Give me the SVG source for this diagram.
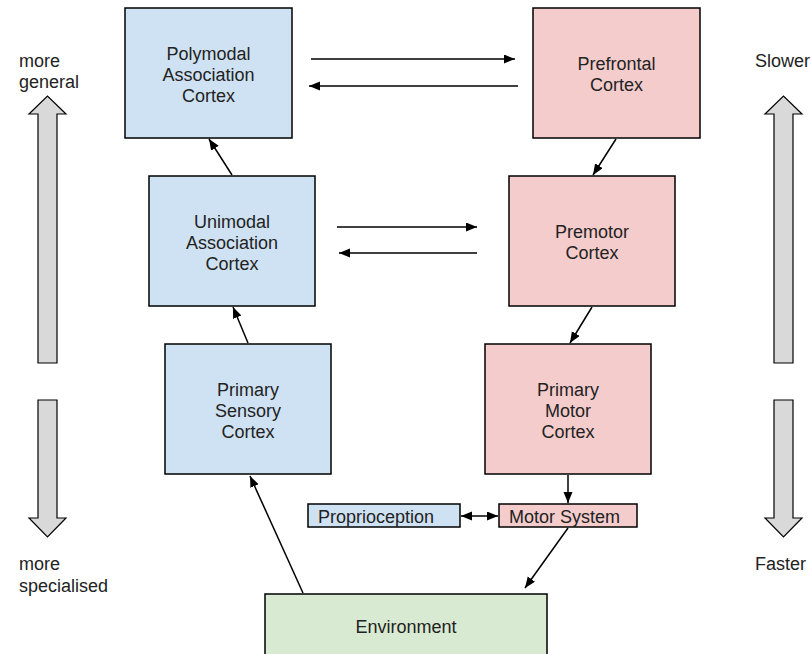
<svg xmlns="http://www.w3.org/2000/svg" width="812" height="654" viewBox="0 0 812 654">
<style>
text{font-family:"Liberation Sans",Arial,sans-serif;font-size:18px;fill:#222}
.c{text-anchor:middle}
.box{stroke:#000;stroke-width:1.5}
.blue{fill:#cfe2f3}
.pink{fill:#f4cccc}
.green{fill:#d9ead3}
.big{fill:#d9d9d9;stroke:#000;stroke-width:1.2}
.con{stroke:#000;stroke-width:1.5;fill:none;marker-end:url(#ah)}
</style>
<defs>
<marker id="ah" markerUnits="userSpaceOnUse" markerWidth="12" markerHeight="10" refX="11" refY="4.5" orient="auto-start-reverse"><path d="M0,0 L11,4.5 L0,9 z" fill="#000"/></marker>
</defs>
<rect width="812" height="654" fill="#fff"/>
<g id="scale-left">
<text x="19" y="67">more</text>
<text x="19" y="88">general</text>
<path class="big" d="M38,363 L38,114 L29,114 L47.5,96 L66,114 L57,114 L57,363 Z"/>
<path class="big" d="M38,400 L38,518 L29,518 L47.5,537 L66,518 L57,518 L57,400 Z"/>
<text x="19" y="570">more</text>
<text x="19" y="592">specialised</text>
</g>
<g id="scale-right">
<text x="755" y="67">Slower</text>
<path class="big" d="M774,363 L774,114 L765,114 L783.5,96 L802,114 L793,114 L793,363 Z"/>
<path class="big" d="M774,400 L774,518 L765,518 L783.5,537 L802,518 L793,518 L793,400 Z"/>
<text x="755" y="570">Faster</text>
</g>
<g id="polymodal">
<rect class="box blue" x="125" y="8" width="167" height="130"/>
<text class="c" x="208.5" y="60">Polymodal</text>
<text class="c" x="208.5" y="81">Association</text>
<text class="c" x="208.5" y="102">Cortex</text>
</g>
<g id="prefrontal">
<rect class="box pink" x="533" y="8" width="167" height="130"/>
<text class="c" x="616.5" y="70">Prefrontal</text>
<text class="c" x="616.5" y="91">Cortex</text>
</g>
<g id="unimodal">
<rect class="box blue" x="149" y="176" width="166" height="130"/>
<text class="c" x="232" y="228">Unimodal</text>
<text class="c" x="232" y="249">Association</text>
<text class="c" x="232" y="270">Cortex</text>
</g>
<g id="premotor">
<rect class="box pink" x="509" y="176" width="166" height="130"/>
<text class="c" x="592" y="238">Premotor</text>
<text class="c" x="592" y="259">Cortex</text>
</g>
<g id="primary-sensory">
<rect class="box blue" x="165" y="344" width="166" height="130"/>
<text class="c" x="248" y="396">Primary</text>
<text class="c" x="248" y="417">Sensory</text>
<text class="c" x="248" y="438">Cortex</text>
</g>
<g id="primary-motor">
<rect class="box pink" x="485" y="344" width="166" height="130"/>
<text class="c" x="568" y="396">Primary</text>
<text class="c" x="568" y="417">Motor</text>
<text class="c" x="568" y="438">Cortex</text>
</g>
<g id="proprioception">
<rect class="box blue" x="308" y="504" width="152" height="23"/>
<text x="318" y="523">Proprioception</text>
</g>
<g id="motor-system">
<rect class="box pink" x="499" y="504" width="138" height="23"/>
<text x="509" y="523">Motor System</text>
</g>
<g id="environment">
<rect class="box green" x="265" y="594" width="282" height="66"/>
<text class="c" x="406" y="633">Environment</text>
</g>
<g id="connectors">
<path class="con" d="M232,175 L209,139"/>
<path class="con" d="M311,59 L515,59"/>
<path class="con" d="M518,86 L309,86"/>
<path class="con" d="M616,139 L593,175"/>
<path class="con" d="M337,227 L477,227"/>
<path class="con" d="M477,253 L339,253"/>
<path class="con" d="M248,343 L233,307"/>
<path class="con" d="M592,307 L570,343"/>
<path class="con" d="M568,475 L568,503"/>
<path class="con" d="M461,516 L498,516" style="marker-start:url(#ah)"/>
<path class="con" d="M303,593 L250,476"/>
<path class="con" d="M568,528 L525,588"/>
</g>
</svg>
